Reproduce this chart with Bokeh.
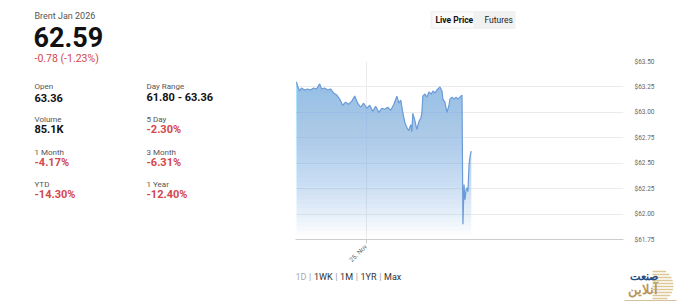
import math
import numpy as np
import pandas as pd
from bokeh.plotting import figure
from bokeh.layouts import row, column
from bokeh.models import Range1d, FixedTicker, NumeralTickFormatter, DatetimeTickFormatter
from bokeh.core.properties import value
from bokeh.embed import file_html
from bokeh.resources import INLINE

# ---------------- data ----------------
instrument = "Brent Jan 2026"
last_price = "62.59"
change_text = "-0.78 (-1.23%)"
stat_labels = ["Open", "Day Range", "Volume", "5 Day", "1 Month", "3 Month", "YTD", "1 Year"]
stat_values = ["63.36", "61.80 - 63.36", "85.1K", "-2.30%", "-4.17%", "-6.31%", "-14.30%", "-12.40%"]
tabs = ["Live Price", "Futures"]
range_buttons = ["1D", "1WK", "1M", "1YR", "Max"]

times = [
    "2025-11-24 18:54", "2025-11-24 18:59", "2025-11-24 19:08", "2025-11-24 19:16", "2025-11-24 19:30",
    "2025-11-24 19:43", "2025-11-24 19:56", "2025-11-24 20:09", "2025-11-24 20:22", "2025-11-24 20:36",
    "2025-11-24 20:45", "2025-11-24 20:58", "2025-11-24 21:11", "2025-11-24 21:24", "2025-11-24 21:37",
    "2025-11-24 21:51", "2025-11-24 22:04", "2025-11-24 22:17", "2025-11-24 22:30", "2025-11-24 22:43",
    "2025-11-24 22:57", "2025-11-24 23:10", "2025-11-24 23:23", "2025-11-24 23:36", "2025-11-24 23:49",
    "2025-11-25 00:03", "2025-11-25 00:16", "2025-11-25 00:29", "2025-11-25 00:42", "2025-11-25 00:56",
    "2025-11-25 01:09", "2025-11-25 01:22", "2025-11-25 01:35", "2025-11-25 01:48", "2025-11-25 02:02",
    "2025-11-25 02:15", "2025-11-25 02:24", "2025-11-25 02:32", "2025-11-25 02:41", "2025-11-25 02:50",
    "2025-11-25 02:59", "2025-11-25 03:08", "2025-11-25 03:16", "2025-11-25 03:21", "2025-11-25 03:25",
    "2025-11-25 03:34", "2025-11-25 03:43", "2025-11-25 03:52", "2025-11-25 04:01", "2025-11-25 04:05",
    "2025-11-25 04:09", "2025-11-25 04:18", "2025-11-25 04:27", "2025-11-25 04:36", "2025-11-25 04:45",
    "2025-11-25 04:54", "2025-11-25 05:02", "2025-11-25 05:11", "2025-11-25 05:20", "2025-11-25 05:24",
    "2025-11-25 05:33", "2025-11-25 05:37", "2025-11-25 05:46", "2025-11-25 05:55", "2025-11-25 06:04",
    "2025-11-25 06:08", "2025-11-25 06:17", "2025-11-25 06:26", "2025-11-25 06:35", "2025-11-25 06:43",
    "2025-11-25 06:52", "2025-11-25 07:01", "2025-11-25 07:05", "2025-11-25 07:10", "2025-11-25 07:14",
    "2025-11-25 07:19", "2025-11-25 07:23", "2025-11-25 07:27", "2025-11-25 07:32", "2025-11-25 07:36",
    "2025-11-25 07:41",
]
prices = [
    63.30, 63.26, 63.21, 63.24, 63.22,
    63.23, 63.22, 63.24, 63.23, 63.28,
    63.23, 63.24, 63.22, 63.23, 63.19,
    63.17, 63.13, 63.07, 63.10, 63.08,
    63.11, 63.16, 63.09, 63.05, 63.09,
    63.04, 63.07, 63.01, 63.06, 63.00,
    63.04, 63.03, 63.05, 63.02, 63.08,
    63.16, 63.09, 63.12, 63.00, 62.90,
    62.85, 62.82, 62.88, 62.81, 62.99,
    62.92, 62.83, 62.91, 62.95, 63.00,
    63.16, 63.18, 63.15, 63.20, 63.18,
    63.21, 63.19, 63.22, 63.24, 63.25,
    63.21, 63.13, 63.10, 63.00, 63.07,
    63.13, 63.15, 63.13, 63.15, 63.13,
    63.15, 63.17, 61.90, 62.29, 62.14,
    62.24, 62.26, 62.22, 62.49, 62.56,
    62.62,
]
y_ticks = [61.75, 62.00, 62.25, 62.50, 62.75, 63.00, 63.25, 63.50]
x_tick_dates = ["2025-11-25"]
x_window = ["2025-11-24 18:50", "2025-11-25 18:50"]

FONT = value("Roboto")
RED = "#d4474c"


def blank(w, h, xr, yr):
    f = figure(width=w, height=h, x_range=Range1d(*xr), y_range=Range1d(*yr),
               output_backend="svg", toolbar_location=None,
               x_axis_location=None, y_axis_location=None, min_border=0)
    f.grid.visible = False
    f.outline_line_color = None
    f.frame_align = False
    return f


def txt(f, x, y, s, size, color, bold=False, align="left"):
    f.text(x=[x], y=[y], text=[s], text_font=FONT, text_font_size=size,
           text_color=color, text_baseline="middle", text_align=align,
           text_font_style="bold" if bold else "normal")


# ---------------- left panel ----------------
L = blank(290, 303, (0, 290), (303, 0))
txt(L, 34, 15.5, instrument, "9px", "#555555")
txt(L, 33, 36, last_price, "27px", "#111111", bold=True)
txt(L, 34, 57.5, change_text, "10.5px", RED)
rows_y = [(86, 97), (119, 129), (151.5, 161.5), (184, 194)]
for i, (lab, val) in enumerate(zip(stat_labels, stat_values)):
    r, col = divmod(i, 2)
    x = 34 if col == 0 else 146
    ly, vy = rows_y[r]
    txt(L, x, ly, lab, "8px", "#555555")
    txt(L, x, vy, val, "11px", RED if val.startswith("-") else "#111111", bold=True)

# ---------------- top (tabs) ----------------
T = blank(410, 55, (290, 700), (55, 0))
T.quad(left=[430], right=[515], top=[10.5], bottom=[28.5], fill_color="#f1f1f1", line_color=None)
T.quad(left=[432], right=[473], top=[12], bottom=[27], fill_color="#fafafa", line_color=None)
txt(T, 435, 19.5, tabs[0], "8.5px", "#111111", bold=True)
txt(T, 484, 19.5, tabs[1], "8.5px", "#222222")

# ---------------- chart ----------------
t = pd.to_datetime(times)
p_arr = np.array(prices)
C = figure(width=410, height=214, x_axis_type="datetime",
           x_range=Range1d(pd.Timestamp(x_window[0]), pd.Timestamp(x_window[1])),
           y_range=Range1d(y_ticks[0], y_ticks[-1]),
           y_axis_location="right", output_backend="svg", toolbar_location=None,
           min_border_left=5, min_border_right=77, min_border_top=6, min_border_bottom=30)
C.outline_line_color = None
C.frame_align = False

# gradient-like area fill: stacked translucent bands, denser towards the top
levels = np.linspace(y_ticks[0], y_ticks[-1], 41)[1:]
for lv in levels:
    C.varea(x=t, y1=np.minimum(lv, p_arr), y2=p_arr, fill_color="#74a9dc", fill_alpha=0.041)
C.line(t, p_arr, line_color="#6b9bd8", line_width=1.2)

xt = FixedTicker(ticks=[pd.Timestamp(d).value // 10**6 for d in x_tick_dates])
C.xaxis.ticker = xt
C.xgrid.ticker = xt
fmt = "%d. %b"
C.xaxis.formatter = DatetimeTickFormatter(microseconds=fmt, milliseconds=fmt, seconds=fmt, minsec=fmt,
                                          minutes=fmt, hourmin=fmt, hours=fmt, days=fmt,
                                          months=fmt, years=fmt)
C.xaxis.major_label_orientation = math.pi / 4
C.xaxis.axis_line_color = "#cccccc"
C.xaxis.major_tick_line_color = "#cccccc"
C.xaxis.major_tick_in = 0
C.xaxis.major_tick_out = 4
C.xaxis.minor_tick_line_color = None
C.xaxis.major_label_text_font = "Roboto"
C.xaxis.major_label_text_font_size = "6.5px"
C.xaxis.major_label_text_color = "#666666"
C.xaxis.major_label_standoff = 2
C.xgrid.grid_line_color = "#ebebeb"

C.yaxis.ticker = FixedTicker(ticks=y_ticks)
C.ygrid.ticker = FixedTicker(ticks=y_ticks)
C.yaxis.formatter = NumeralTickFormatter(format="$0.00")
C.yaxis.axis_line_color = None
C.yaxis.major_tick_line_color = None
C.yaxis.minor_tick_line_color = None
C.yaxis.major_label_standoff = 5
C.yaxis.major_label_text_font = "Roboto"
C.yaxis.major_label_text_font_size = "6.5px"
C.yaxis.major_label_text_color = "#666666"
C.ygrid.grid_line_color = "#ebebeb"

# ---------------- bottom (range buttons + logo) ----------------
B = blank(410, 34, (290, 700), (303, 269))
btn_x = [295, 313.4, 339.6, 360, 383.6]
sep_x = [308.6, 334.8, 355.2, 378.8]
for i, (lab, bx) in enumerate(zip(range_buttons, btn_x)):
    txt(B, bx, 276.5, lab, "9px", "#aaaaaa" if i == 0 else "#333333")
for sx in sep_x:
    txt(B, sx, 276.5, "|", "9px", "#999999")

cx, cy, rr = 656, 285, 17
ys = np.arange(-14, 15, 3)
half = np.sqrt(rr ** 2 - ys ** 2)
B.segment(x0=cx - 4, y0=cy + ys, x1=cx + half, y1=cy + ys, line_color="#dcc894", line_width=1.6)
txt(B, 643, 276, "صنعت", "11px", "#1f4f8a", bold=True, align="center")
txt(B, 642, 289, "آنلاین", "13px", "#b8955a", bold=True, align="center")
B.segment(x0=[624], y0=[300], x1=[676], y1=[300], line_color="#b8955a", line_width=0.6)

layout = row(L, column(T, C, B))
open("out.html", "w").write(file_html(layout, INLINE))
